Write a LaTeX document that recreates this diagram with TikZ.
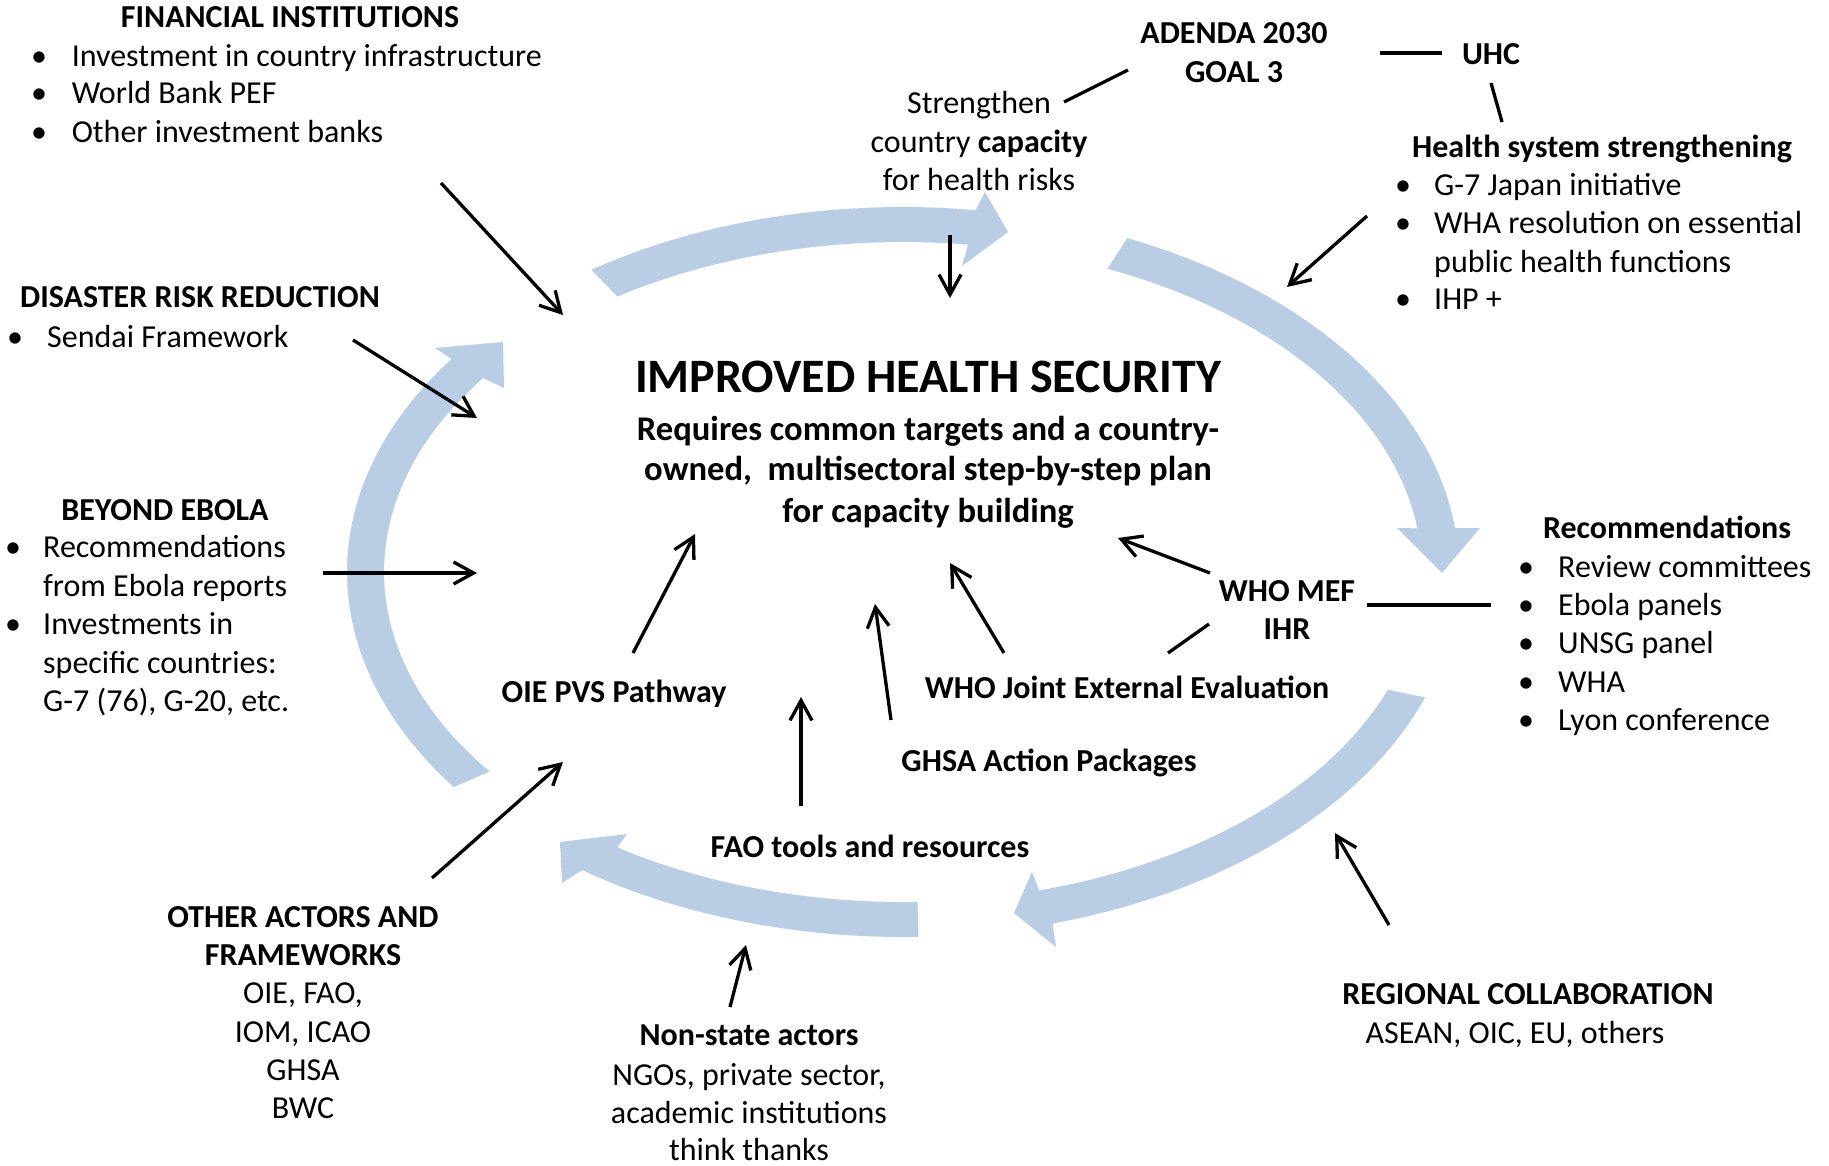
\documentclass[tikz,border=0pt]{standalone}
\usepackage{fontspec}
\setmainfont{Carlito}
\usetikzlibrary{arrows.meta}
\definecolor{arrowblue}{HTML}{B9CDE5}
\newcommand\fsnorm{\fontsize{32}{38}\selectfont}
\newcommand\fssub{\fontsize{34.6}{41}\selectfont}
\newcommand\fsbig{\fontsize{48}{56}\selectfont}
\begin{document}
\begin{tikzpicture}[x=1pt,y=-1pt,
  lbl/.style={inner sep=0pt, font=\fsnorm, anchor=base},
  lblw/.style={lbl, anchor=base west},
  bold/.style={font=\fsnorm\bfseries},
  sub/.style={font=\fssub\bfseries},
  big/.style={font=\fsbig\bfseries},
  conn/.style={line width=3.3pt, -{Straight Barb[length=20pt,width=22pt,line width=3.3pt]}},
  plain/.style={line width=3.3pt},
  bluearrow/.style={fill=arrowblue}]
\useasboundingbox (0,0) rectangle (1829,1165);
\fill[white] (0,0) rectangle (1829,1165);

% ---------- big blue cycle arrows (arcs of two concentric ellipses) ----------
% top
\fill[bluearrow] plot[domain=-124.1:-82.5, samples=40, variable=\t] ({903+556*cos(\t)},{572+365*sin(\t)})
  -- (985,192) -- (1008,232) -- (962,266)
  -- plot[domain=-82.8:-123.4, samples=40, variable=\t] ({903+519*cos(\t)},{572+330*sin(\t)}) -- cycle;
% right
\fill[bluearrow] plot[domain=-66.2:-6.9, samples=50, variable=\t] ({903+556*cos(\t)},{572+365*sin(\t)})
  -- (1480,528) -- (1442,573) -- (1397,528)
  -- plot[domain=-7.6:-66.8, samples=50, variable=\t] ({903+519*cos(\t)},{572+330*sin(\t)}) -- cycle;
% bottom right
\fill[bluearrow] plot[domain=20.1:74.4, samples=50, variable=\t] ({903+556*cos(\t)},{572+365*sin(\t)})
  -- (1056,947) -- (1014,913) -- (1032,872)
  -- plot[domain=74.8:20.9, samples=50, variable=\t] ({903+519*cos(\t)},{572+330*sin(\t)}) -- cycle;
% bottom left
\fill[bluearrow] plot[domain=88.4:125.25, samples=40, variable=\t] ({903+556*cos(\t)},{572+365*sin(\t)})
  -- (562,883) -- (560,842) -- (627,834)
  -- plot[domain=123.4:88.4, samples=40, variable=\t] ({903+519*cos(\t)},{572+330*sin(\t)}) -- cycle;
% left
\fill[bluearrow] plot[domain=143.9:215.7, samples=60, variable=\t] ({903+556*cos(\t)},{572+365*sin(\t)})
  -- (435,348) -- (503,342) -- (504,388)
  -- plot[domain=216:142.8, samples=60, variable=\t] ({903+519*cos(\t)},{572+330*sin(\t)}) -- cycle;

% ---------- texts ----------
% Financial institutions
\node[lbl,bold] (fin) at (290,27) {FINANCIAL INSTITUTIONS};
\node[lbl] (finb1) at (39,66) {•};
\node[lblw] (fin1) at (71.6,66) {Investment in country infrastructure};
\node[lbl] (finb2) at (39,103) {•};
\node[lblw] (fin2) at (71.6,103) {World Bank PEF};
\node[lbl] (finb3) at (39,142) {•};
\node[lblw] (fin3) at (71.6,142) {Other investment banks};
% Disaster risk reduction
\node[lblw,bold] (drr) at (20,307) {DISASTER RISK REDUCTION};
\node[lbl] (drrb1) at (15,347) {•};
\node[lblw] (drr1) at (47,347) {Sendai Framework};
% Beyond Ebola
\node[lbl,bold] (be) at (165,520) {BEYOND EBOLA};
\node[lbl] (beb1) at (13,557) {•};
\node[lblw] (be1) at (43,557) {Recommendations};
\node[lblw] (be2) at (43,596) {from Ebola reports};
\node[lbl] (beb3) at (13,634) {•};
\node[lblw] (be3) at (43,634) {Investments in};
\node[lblw] (be4) at (43,673) {specific countries:};
\node[lblw] (be5) at (43,711) {G-7 (76), G-20, etc.};
% centre
\node[lbl,big] (ihs) at (928,392) {IMPROVED HEALTH SECURITY};
\node[lbl,sub] (ihs1) at (928,440) {Requires common targets and a country-};
\node[lbl,sub] (ihs2) at (928,480) {owned,\ \ multisectoral step-by-step plan};
\node[lbl,sub] (ihs3) at (928,522) {for capacity building};
% Agenda 2030
\node[lbl,bold] (ag1) at (1234,43) {ADENDA 2030};
\node[lbl,bold] (ag2) at (1234,82) {GOAL 3};
\node[lbl,bold] (uhc) at (1491,64) {UHC};
\node[lbl] (st1) at (979,113) {Strengthen};
\node[lbl] (st2) at (979,152) {country \textbf{capacity}};
\node[lbl] (st3) at (979,190) {for health risks};
% Health system strengthening
\node[lbl,bold] (hss) at (1602,157) {Health system strengthening};
\node[lbl] (hssb1) at (1403,195) {•};
\node[lblw] (hss1) at (1434,195) {G-7 Japan initiative};
\node[lbl] (hssb2) at (1403,233) {•};
\node[lblw] (hss2) at (1434,233) {WHA resolution on essential};
\node[lblw] (hss3) at (1434,272) {public health functions};
\node[lbl] (hssb4) at (1403,309) {•};
\node[lblw] (hss4) at (1434,309) {IHP +};
% Recommendations
\node[lbl,bold] (rec) at (1667,538) {Recommendations};
\node[lbl] (recb1) at (1526,577) {•};
\node[lblw] (rec1) at (1558,577) {Review committees};
\node[lbl] (recb2) at (1526,615) {•};
\node[lblw] (rec2) at (1558,615) {Ebola panels};
\node[lbl] (recb3) at (1526,653) {•};
\node[lblw] (rec3) at (1558,653) {UNSG panel};
\node[lbl] (recb4) at (1526,692) {•};
\node[lblw] (rec4) at (1558,692) {WHA};
\node[lbl] (recb5) at (1526,730) {•};
\node[lblw] (rec5) at (1558,730) {Lyon conference};
% inner tools
\node[lbl,bold] (mef) at (1287,601) {WHO MEF};
\node[lbl,bold] (ihr) at (1287,639) {IHR};
\node[lbl,bold] (jee) at (1127,698) {WHO Joint External Evaluation};
\node[lbl,bold] (ghsa) at (1049,771) {GHSA Action Packages};
\node[lbl,bold] (oie) at (614,702) {OIE PVS Pathway};
\node[lbl,bold] (fao) at (870,857) {FAO tools and resources};
% other actors
\node[lbl,bold] (oa1) at (303,927) {OTHER ACTORS AND};
\node[lbl,bold] (oa2) at (303,965) {FRAMEWORKS};
\node[lbl] (oa3) at (303,1003) {OIE, FAO,};
\node[lbl] (oa4) at (303,1042) {IOM, ICAO};
\node[lbl] (oa5) at (303,1080) {GHSA};
\node[lbl] (oa6) at (303,1118) {BWC};
% non-state actors
\node[lbl,bold] (ns1) at (749,1045) {Non-state actors};
\node[lbl] (ns2) at (749,1085) {NGOs, private sector,};
\node[lbl] (ns3) at (749,1123) {academic institutions};
\node[lbl] (ns4) at (749,1160) {think thanks};
% regional
\node[lbl,bold] (reg1) at (1528,1004) {REGIONAL COLLABORATION};
\node[lbl] (reg2) at (1515,1043) {ASEAN, OIC, EU, others};

% ---------- connector end points ----------
\coordinate (finS) at (441,183);   \coordinate (finE) at (563,315);
\coordinate (drrS) at (353,340);   \coordinate (drrE) at (477,418);
\coordinate (beS) at (323,573);    \coordinate (beE) at (477,573);
\coordinate (stS) at (950,235);    \coordinate (stE) at (950,298);
\coordinate (hssS) at (1367,216);  \coordinate (hssE) at (1287,287);
\coordinate (mefS) at (1210,573);  \coordinate (mefE) at (1118,538);
\coordinate (jeeS) at (1004,653);  \coordinate (jeeE) at (950,563);
\coordinate (ghsaS) at (891,720);  \coordinate (ghsaE) at (875,604);
\coordinate (oieS) at (633,653);   \coordinate (oieE) at (695,534);
\coordinate (faoS) at (801,806);   \coordinate (faoE) at (801,697);
\coordinate (oaS) at (432,878);    \coordinate (oaE) at (563,762);
\coordinate (nsS) at (730,1007);   \coordinate (nsE) at (746,945);
\coordinate (regS) at (1389,925);  \coordinate (regE) at (1335,833);
\coordinate (agL1) at (1380,53);   \coordinate (agL2) at (1442,53);
\coordinate (agS1) at (1128,70);   \coordinate (agS2) at (1064,102);
\coordinate (uh1) at (1491,83);    \coordinate (uh2) at (1502,122);
\coordinate (mr1) at (1367,605);   \coordinate (mr2) at (1491,605);
\coordinate (ij1) at (1209,624);   \coordinate (ij2) at (1168,653);

% ---------- connectors ----------
\draw[conn] (finS) -- (finE);
\draw[conn] (drrS) -- (drrE);
\draw[conn] (beS) -- (beE);
\draw[conn] (stS) -- (stE);
\draw[conn] (hssS) -- (hssE);
\draw[conn] (mefS) -- (mefE);
\draw[conn] (jeeS) -- (jeeE);
\draw[conn] (ghsaS) -- (ghsaE);
\draw[conn] (oieS) -- (oieE);
\draw[conn] (faoS) -- (faoE);
\draw[conn] (oaS) -- (oaE);
\draw[conn] (nsS) -- (nsE);
\draw[conn] (regS) -- (regE);
\draw[plain] (agL1) -- (agL2);
\draw[plain] (agS1) -- (agS2);
\draw[plain] (uh1) -- (uh2);
\draw[plain] (mr1) -- (mr2);
\draw[plain] (ij1) -- (ij2);
\end{tikzpicture}
\end{document}
